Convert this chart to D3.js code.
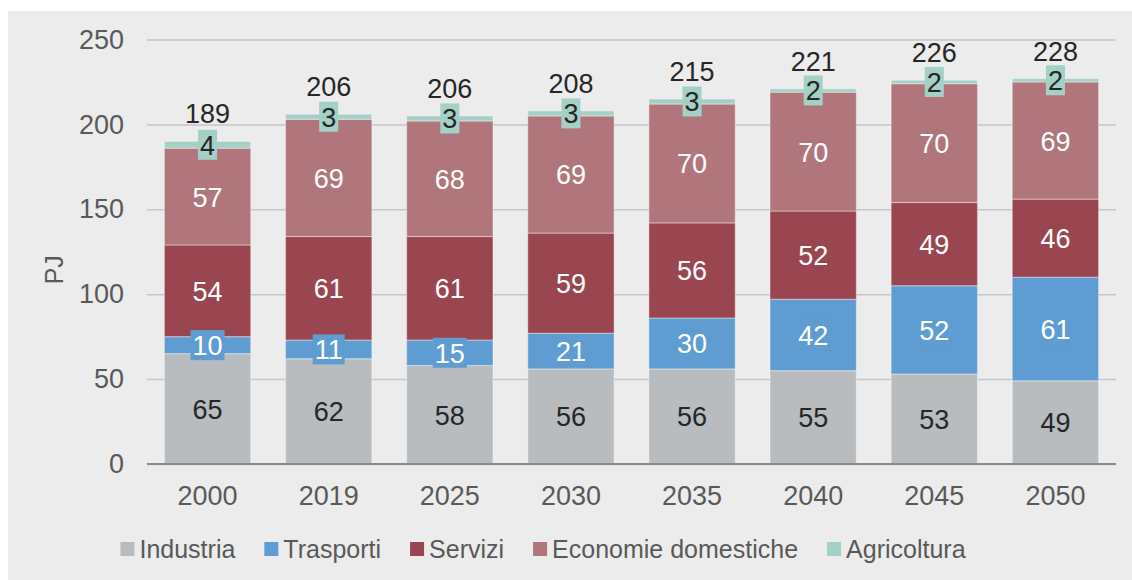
<!DOCTYPE html>
<html>
<head>
<meta charset="utf-8">
<script src="https://cdn.jsdelivr.net/npm/d3@7"></script>
<style>
  body { margin: 0; background: #fff; }
  svg { display: block; font-family: "Liberation Sans", Arial, sans-serif; }
</style>
</head>
<body>
<div id="chart"></div>
<script>
const years = ['2000', '2019', '2025', '2030', '2035', '2040', '2045', '2050'];
const industria = [65, 62, 58, 56, 56, 55, 53, 49];
const trasporti = [10, 11, 15, 21, 30, 42, 52, 61];
const servizi = [54, 61, 61, 59, 56, 52, 49, 46];
const economieDomestiche = [57, 69, 68, 69, 70, 70, 70, 69];
const agricoltura = [4, 3, 3, 3, 3, 2, 2, 2];
const totals = [189, 206, 206, 208, 215, 221, 226, 228];
const yTicks = [0, 50, 100, 150, 200, 250];

const seriesNames = ['Industria', 'Trasporti', 'Servizi', 'Economie domestiche', 'Agricoltura'];
const seriesColors = ['#b8bcbf', '#5f9cd2', '#9a4650', '#b0767c', '#a5d0c6'];
const labelColors = ['#262626', '#ffffff', '#ffffff', '#ffffff', '#262626'];

const WIDTH = 1132;
const HEIGHT = 580;
const margin = { top: 39.5, right: 16, bottom: 116, left: 147 };
const NUM_FONT = '27px';

const rows = years.map((year, i) => ({
  year,
  Industria: industria[i],
  Trasporti: trasporti[i],
  Servizi: servizi[i],
  'Economie domestiche': economieDomestiche[i],
  Agricoltura: agricoltura[i],
  total: totals[i],
}));

const svg = d3
  .select('#chart')
  .append('svg')
  .attr('width', WIDTH)
  .attr('height', HEIGHT);

svg
  .append('rect')
  .attr('x', 8)
  .attr('y', 11)
  .attr('width', WIDTH - 8)
  .attr('height', HEIGHT - 11)
  .attr('fill', '#ececec');

const x = d3
  .scaleBand()
  .domain(years)
  .range([margin.left, WIDTH - margin.right])
  .paddingInner(0.287)
  .paddingOuter(0.1435);

const y = d3
  .scaleLinear()
  .domain([0, 250])
  .range([HEIGHT - margin.bottom, margin.top]);

// gridlines + y tick labels
const yAxis = svg
  .append('g')
  .attr('transform', `translate(${margin.left}, 0)`)
  .call(
    d3
      .axisLeft(y)
      .tickValues(yTicks)
      .tickSize(-(WIDTH - margin.left - margin.right))
      .tickPadding(23)
  );
yAxis.select('.domain').remove();
yAxis.selectAll('line').attr('stroke', '#c3c6ca').attr('stroke-width', 1.5);
yAxis
  .selectAll('text')
  .attr('fill', '#595959')
  .style('font-size', NUM_FONT)
  .style('font-family', '"Liberation Sans", Arial, sans-serif');

svg
  .append('text')
  .attr('transform', `translate(63, ${(y(0) + y(250)) / 2 + 18}) rotate(-90)`)
  .attr('text-anchor', 'middle')
  .attr('fill', '#595959')
  .style('font-size', '25px')
  .text('PJ');

const stacked = d3.stack().keys(seriesNames)(rows);

const layers = svg
  .selectAll('g.layer')
  .data(stacked)
  .join('g')
  .attr('class', 'layer')
  .attr('fill', (_, i) => seriesColors[i]);

layers
  .selectAll('rect')
  .data((d) => d)
  .join('rect')
  .attr('x', (d) => x(d.data.year))
  .attr('y', (d) => y(d[1]))
  .attr('width', x.bandwidth())
  .attr('height', (d) => y(d[0]) - y(d[1]))
  .attr('stroke', 'rgba(255,255,255,0.35)')
  .attr('stroke-width', 1.2);

// baseline
svg
  .append('line')
  .attr('x1', margin.left)
  .attr('x2', WIDTH - margin.right)
  .attr('y1', y(0))
  .attr('y2', y(0))
  .attr('stroke', '#8a8a8a')
  .attr('stroke-width', 2);

// x labels
svg
  .append('g')
  .selectAll('text')
  .data(years)
  .join('text')
  .attr('x', (d) => x(d) + x.bandwidth() / 2)
  .attr('y', y(0) + 41)
  .attr('text-anchor', 'middle')
  .attr('fill', '#595959')
  .style('font-size', NUM_FONT)
  .text((d) => d);

// segment labels with boxes
stacked.forEach((layer, li) => {
  const g = svg.append('g');
  layer.forEach((d) => {
    const cx = x(d.data.year) + x.bandwidth() / 2;
    const cy = (y(d[0]) + y(d[1])) / 2;
    const label = g.append('g');
    const rect = label.append('rect').attr('fill', seriesColors[li]);
    const text = label
      .append('text')
      .attr('x', cx)
      .attr('y', cy + 10)
      .attr('text-anchor', 'middle')
      .attr('fill', labelColors[li])
      .style('font-size', NUM_FONT)
      .text(d.data[layer.key]);
    const w = text.node().getComputedTextLength();
    rect
      .attr('x', cx - w / 2 - 2)
      .attr('y', cy - 15)
      .attr('width', w + 4)
      .attr('height', 30);
  });
});

// totals
svg
  .append('g')
  .selectAll('text')
  .data(rows)
  .join('text')
  .attr('x', (d) => x(d.year) + x.bandwidth() / 2)
  .attr('y', (d) => y(d3.sum(seriesNames, (k) => d[k])) - 28 + 10)
  .attr('text-anchor', 'middle')
  .attr('fill', '#262626')
  .style('font-size', NUM_FONT)
  .text((d) => d.total);

// legend
const legend = svg.append('g');
const items = legend
  .selectAll('g')
  .data(seriesNames)
  .join('g');
items
  .append('rect')
  .attr('width', 14)
  .attr('height', 14)
  .attr('y', -7)
  .attr('fill', (_, i) => seriesColors[i]);
items
  .append('text')
  .attr('x', 19)
  .attr('y', 9)
  .attr('fill', '#595959')
  .style('font-size', '25px')
  .text((d) => d);

let offset = 0;
items.each(function () {
  const w = this.querySelector('text').getComputedTextLength();
  d3.select(this).attr('transform', `translate(${offset}, 0)`);
  offset += 19 + w + 29;
});
const legendWidth = offset - 29;
legend.attr('transform', `translate(${543 - legendWidth / 2}, 549)`);
</script>
</body>
</html>
